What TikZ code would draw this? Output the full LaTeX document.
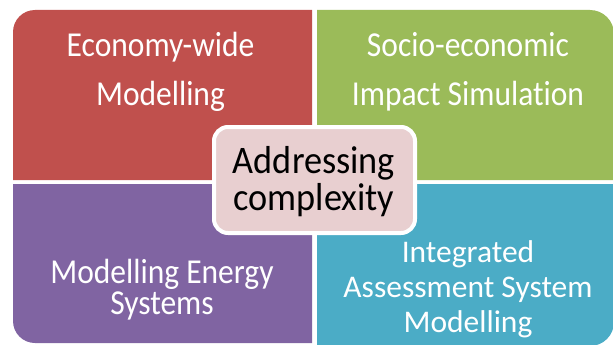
\documentclass[tikz,border=0pt]{standalone}
\usepackage{fontspec}
\setmainfont{Carlito}[Ligatures=NoCommon]
\newfontfamily\quadfont{Carlito}[FakeStretch=0.9,Ligatures=NoCommon]
\newfontfamily\hubfont{Carlito}[FakeStretch=0.93,Ligatures=NoCommon]
\definecolor{qred}{HTML}{C0504D}
\definecolor{qgreen}{HTML}{9BBB59}
\definecolor{qpurple}{HTML}{8064A2}
\definecolor{qblue}{HTML}{4BACC6}
\definecolor{qpink}{HTML}{E8CFD0}
\begin{document}
\begin{tikzpicture}[x=1pt,y=-1pt,
  quadlabel/.style={text=white,align=center,anchor=base,inner sep=0pt},
  hub/.style={draw=white,line width=4pt,fill=qpink,rounded corners=14pt,
    minimum width=201pt,minimum height=106pt,inner sep=0pt}]
\useasboundingbox (0,0) rectangle (613,345);
% four quadrants, only the outer corners rounded
\fill[qred] (312,180) -- (13,180) [rounded corners=22pt] -- (13,10) [sharp corners] -- (312,10) -- cycle;
\fill[qgreen] (317,180) -- (317,10) [rounded corners=24pt] -- (614,10) [sharp corners] -- (614,180) -- cycle;
\fill[qpurple] (312,184) -- (13,184) [rounded corners=22pt] -- (13,343) [sharp corners] -- (312,343) -- cycle;
\fill[qblue] (317,184) -- (614,184) [rounded corners=24pt] -- (614,346) [sharp corners] -- (317,346) -- cycle;
% quadrant labels (anchored at the baseline of their last line)
\node[quadlabel,font=\quadfont\fontsize{35}{48}\selectfont] (econ) at (160.5,105) {Economy-wide\\Modelling};
\node[quadlabel,font=\quadfont\fontsize{35}{48}\selectfont] (socio) at (468,105) {Socio-economic\\Impact Simulation};
\node[quadlabel,font=\quadfont\fontsize{35}{31}\selectfont] (energy) at (162,314) {Modelling Energy\\Systems};
\node[quadlabel,font=\fontsize{31.5}{35}\selectfont] (iasm) at (468,332) {Integrated\\Assessment System\\Modelling};
% central box
\node[hub] (hubbox) at (314.5,180) {};
\node[anchor=base,align=center,inner sep=0pt,font=\hubfont\fontsize{39}{37}\selectfont] (hubtext) at (314,210) {Addressing\\complexity};
\end{tikzpicture}
\end{document}
